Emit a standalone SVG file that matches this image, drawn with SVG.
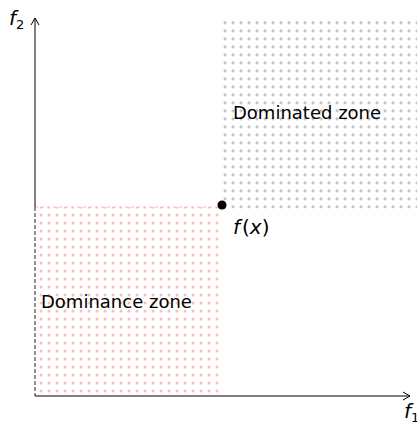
<svg xmlns="http://www.w3.org/2000/svg" width="417" height="424" viewBox="0 0 417 424">
<style>
.t{font-family:"DejaVu Sans",sans-serif;font-size:18px;fill:#000}
.m{font-family:"DejaVu Sans",sans-serif;font-style:italic;font-size:20px;fill:#000}
.u{font-style:normal}
.s{font-family:"DejaVu Sans",sans-serif;font-style:normal;font-size:13px;fill:#000}
.ax{stroke:#000;stroke-width:1;fill:none}
</style>
<defs>
<pattern id="gray" patternUnits="userSpaceOnUse" x="221" y="18.7" width="8" height="8">
<circle cx="4" cy="4" r="1.5" fill="#bdbdbd"/>
</pattern>
<pattern id="pink" patternUnits="userSpaceOnUse" x="37" y="211" width="8" height="8">
<circle cx="4" cy="4" r="1.5" fill="#ffbcbc"/>
</pattern>
<marker id="arr" viewBox="0 0 10 10" refX="9" refY="5" markerWidth="10" markerHeight="10" markerUnits="userSpaceOnUse" orient="auto">
<path d="M2,1 L9,5 L2,9" fill="none" stroke="#000" stroke-width="1"/>
</marker>
</defs>
<g id="dominated-zone">
<rect x="221" y="18.7" width="196" height="190" fill="url(#gray)"/>
<text class="t" x="233" y="119">Dominated zone</text>
</g>
<g id="dominance-zone">
<rect x="35" y="207" width="184" height="189" fill="url(#pink)"/>
<line x1="35" y1="207" x2="219" y2="207" stroke="#f5b5b5" stroke-width="1" stroke-dasharray="3 3"/>
<text class="t" x="41" y="308">Dominance zone</text>
</g>
<g id="connectors">
<line class="ax" x1="35" y1="207" x2="35" y2="18" marker-end="url(#arr)"/>
<line x1="35" y1="207" x2="35" y2="396" stroke="#222" stroke-width="1" stroke-dasharray="4 2"/>
<line class="ax" x1="35" y1="396" x2="410" y2="396" stroke="#555" marker-end="url(#arr)"/>
</g>
<g id="axis-labels">
<text class="m" x="9" y="25">f<tspan class="s" dy="4">2</tspan></text>
<text class="m" x="404" y="418">f<tspan class="s" dy="4">1</tspan></text>
</g>
<g id="point">
<circle cx="222" cy="205" r="4.5" fill="#000"/>
<text class="m" x="233" y="234" font-size="21">f<tspan class="u" dx="2">(</tspan><tspan>x</tspan><tspan class="u">)</tspan></text>
</g>
</svg>
